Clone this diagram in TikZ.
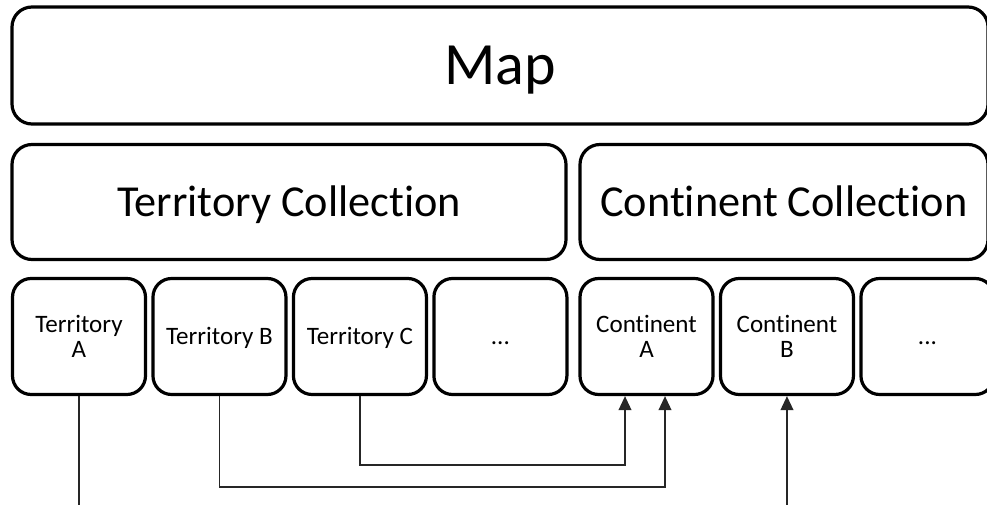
\documentclass[tikz,border=0pt]{standalone}
\usepackage{fontspec}
\setmainfont{Carlito}[Ligatures=NoCommon]
\usetikzlibrary{positioning, calc, arrows.meta}

\tikzset{
  box/.style={draw, rounded corners=15pt, line width=2.4pt, inner sep=0pt},
  oneline/.style={text height=#1, text depth=0pt},
  twoline/.style={align=center},
  bigbox/.style={box, oneline=21.4pt, minimum height=86.25pt, font=\fontsize{33.2}{36}\selectfont},
  smallbox/.style={box, rounded corners=14pt, minimum width=99.75pt, minimum height=87pt,
    font=\fontsize{18.8}{19}\selectfont},
  link/.style={line width=1.3pt, draw=black!85},
  into/.style={link, -{Triangle[length=10.5pt, width=9.5pt]}}
}

\begin{document}
\begin{tikzpicture}[x=0.75pt, y=-0.75pt, node distance=3.2pt]
\useasboundingbox (0,0) rectangle (987,505);

% top level
\node[box, oneline=29pt, minimum width=732pt, minimum height=87.75pt, font=\fontsize{45}{48}\selectfont]
  (map) at (500,65.5) {Map};

% collections
\node[bigbox, minimum width=415.5pt] (tcoll) at (289,202) {Territory Collection};
\node[bigbox, minimum width=306pt] (ccoll) at (784,202) {Continent Collection};

% territories
\node[smallbox, twoline] (ta) at (79,336.5) {Territory\\A};
\node[smallbox, oneline=12.1pt, right=of ta] (tb) {Territory B};
\node[smallbox, oneline=12.1pt, right=of tb] (tc) {Territory C};
\node[smallbox, oneline=12.1pt, right=of tc] (td) {...};

% continents
\node[smallbox, twoline] (ca) at (646.5,336.5) {Continent\\A};
\node[smallbox, twoline, right=of ca] (cb) {Continent\\B};
\node[smallbox, oneline=12.1pt, right=of cb] (cd) {...};

% links
\coordinate (edge) at (0,506);
\coordinate (lowB) at (0,487);
\coordinate (lowC) at (0,465);
\coordinate (caB) at ($(ca.south)+(18.5,0)$);
\coordinate (caC) at ($(ca.south)+(-21.5,0)$);

\draw[link] (ta.south) -- (ta.south |- edge);
\draw[into] (tb.south) -- (tb.south |- lowB) -| (caB);
\draw[into] (tc.south) -- (tc.south |- lowC) -| (caC);
\draw[into] (cb.south |- edge) -- (cb.south);
\end{tikzpicture}
\end{document}
